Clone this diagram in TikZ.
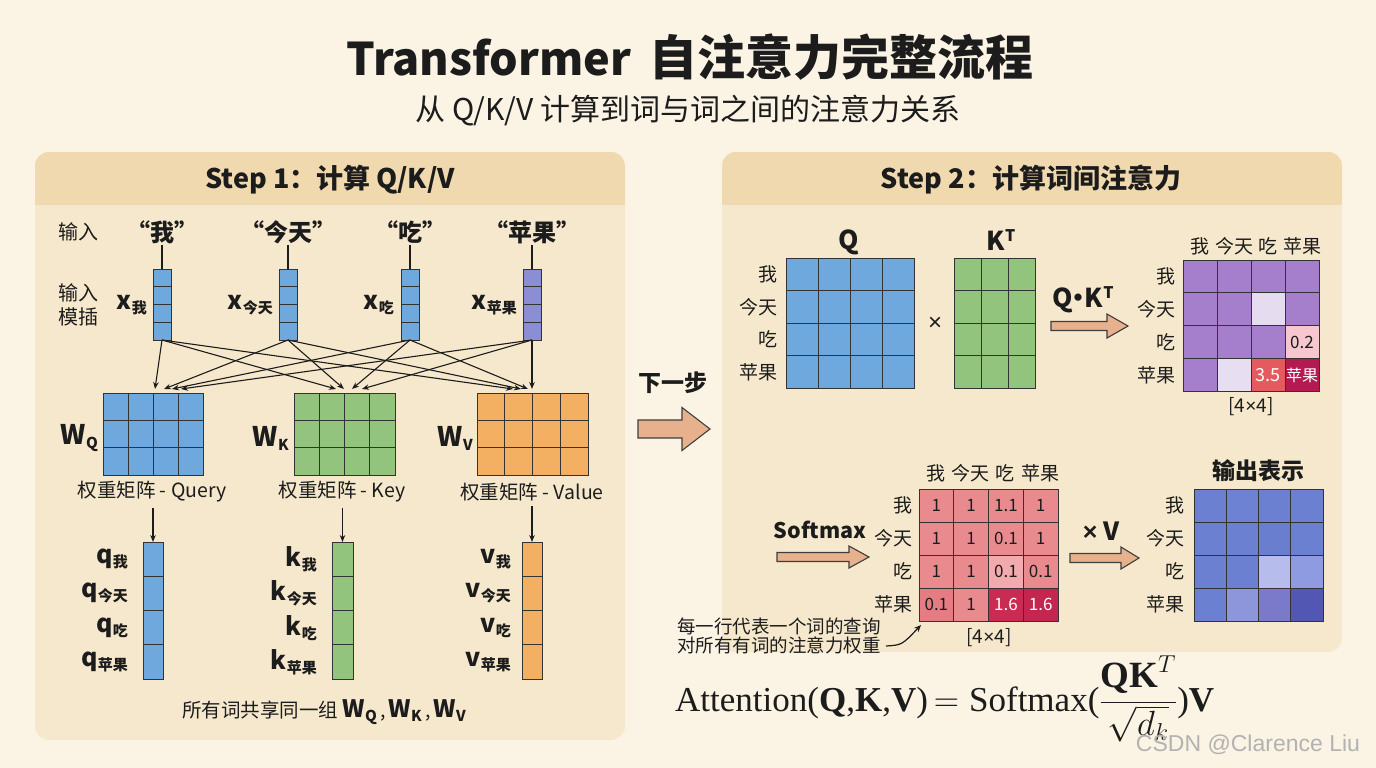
\RequirePackage{fix-cm}
\documentclass[tikz,border=0pt]{standalone}
\usepackage[no-math]{fontspec}
\setmainfont{Noto Sans CJK SC}
\newfontfamily\serifT{Liberation Serif}
\newfontfamily\wmfont{Liberation Sans}
\usetikzlibrary{arrows.meta,calc}

\definecolor{bgc}{HTML}{FBF4E5}
\definecolor{panelc}{HTML}{F6E8CC}
\definecolor{headc}{HTML}{F0D9AE}
\definecolor{blueC}{HTML}{6FA8DC}
\definecolor{greenC}{HTML}{93C47D}
\definecolor{orangeC}{HTML}{F4B062}
\definecolor{purpV}{HTML}{8C8ED4}
\definecolor{qkP}{HTML}{A57FCB}
\definecolor{smR}{HTML}{E98A8F}
\definecolor{outB}{HTML}{6B80D0}
\definecolor{arrF}{HTML}{E6B18C}
\definecolor{inkc}{HTML}{1C1C1C}

\newcommand\fs[1]{\fontsize{#1}{#1}\selectfont}
\newcommand\tms{{\wmfont ×}}
% matrix body as a named node
\newcommand\mkmat[6]{%
  \fill[#6] (#2,#3) rectangle (#4,#5);
  \node[inner sep=0pt,outer sep=0pt,minimum width={(#4-#2)*1pt},minimum height={(#5-#3)*1pt}] (#1) at ({(#2+#4)/2},{(#3+#5)/2}) {};
}
\newcommand\mkgrid[6]{%
  \foreach \i in {0,...,#5} \draw[gl] ({#1+(#3-#1)*\i/#5},#2) -- ({#1+(#3-#1)*\i/#5},#4);
  \foreach \j in {0,...,#6} \draw[gl] (#1,{#2+(#4-#2)*\j/#6}) -- (#3,{#2+(#4-#2)*\j/#6});
}
% x1 y1 cw ch row col hexcolour
\newcommand\cellc[7]{\definecolor{cellcol}{HTML}{#7}\fill[cellcol] ({#1+(#6-1)*#3},{#2+(#5-1)*#4}) rectangle ++(#3,#4);}
% block arrow: x1 x2 yc shafthalf headhalf headlen
\newcommand\barrow[6]{%
  \draw[fill=arrF,draw=inkc!85,line width=1.1pt,line join=miter]
    (#1,{#3-#4}) -- ({#2-#6},{#3-#4}) -- ({#2-#6},{#3-#5}) -- (#2,#3) -- ({#2-#6},{#3+#5}) -- ({#2-#6},{#3+#4}) -- (#1,{#3+#4}) -- cycle;}
\newcommand\subl[3]{{\bfseries\fs{#3}#1}\raisebox{-4pt}{\bfseries\fs{15}#2}}

\tikzset{
  gl/.style={draw=inkc!90,line width=1pt,line cap=rect},
  txt/.style={inner sep=1pt,text=inkc},
  lab/.style={txt,font=\fs{20}},
  rowl/.style={txt,font=\fs{19},anchor=east},
  coll/.style={txt,font=\fs{19}},
  wordst/.style={txt,font=\bfseries\fs{24}},
  stem/.style={draw=inkc,line width=1.1pt},
  xarrow/.style={draw=inkc,line width=1.1pt,-{Stealth[length=7pt,width=5.5pt]}},
  val/.style={inner sep=0pt,font=\fs{17}},
}

\begin{document}
\begin{tikzpicture}[x=1pt,y=-1pt]
\useasboundingbox (0,0) rectangle (1376,768);
\fill[bgc] (0,0) rectangle (1376,768);

% title
\node[txt,anchor=base] (title) at (690,76) {{\bfseries\fs{45}Transformer}\hspace{18pt}{\bfseries\fs{48}自注意力完整流程}};
\node[txt,anchor=base] (subt) at (688,120) {\fs{30}从 Q/K/V 计算到词与词之间的注意力关系};

% panels
\fill[panelc,rounded corners=14pt] (35,152) rectangle (625,740);
\begin{scope}
  \clip[rounded corners=14pt] (35,152) rectangle (625,740);
  \fill[headc] (35,152) rectangle (625,205);
\end{scope}
\fill[panelc,rounded corners=14pt] (722,152) rectangle (1342,652);
\begin{scope}
  \clip[rounded corners=14pt] (722,152) rectangle (1342,652);
  \fill[headc] (722,152) rectangle (1342,205);
\end{scope}
\node[txt,font=\bfseries\fs{27}] (h1) at (330,180) {Step 1：计算 Q/K/V};
\node[txt,font=\bfseries\fs{27}] (h2) at (1031,180) {Step 2：计算词间注意力};

% ---------------- Step 1 ----------------
\node[lab] (inlab) at (78,232) {输入};
\node[lab,align=center] (emb) at (78,305) {输入\\[4pt]模插};
\node[wordst] (w1) at (162,232) {“我”};
\node[wordst] (w2) at (288,232) {“今天”};
\node[wordst] (w3) at (410,232) {“吃”};
\node[wordst] (w4) at (532,232) {“苹果”};

\mkmat{xv1}{153}{269}{171}{340}{blueC}\mkgrid{153}{269}{171}{340}{1}{4}
\mkmat{xv2}{279}{269}{297}{340}{blueC}\mkgrid{279}{269}{297}{340}{1}{4}
\mkmat{xv3}{401}{269}{419}{340}{blueC}\mkgrid{401}{269}{419}{340}{1}{4}
\mkmat{xv4}{523}{269}{541}{340}{purpV}\mkgrid{523}{269}{541}{340}{1}{4}
\foreach \k in {1,...,4} \draw[stem] (w\k.south) -- (xv\k.north);

\node[txt,anchor=east] (xl1) at (148,305) {\subl{x}{我}{25}};
\node[txt,anchor=east] (xl2) at (274,305) {\subl{x}{今天}{25}};
\node[txt,anchor=east] (xl3) at (395,305) {\subl{x}{吃}{25}};
\node[txt,anchor=east] (xl4) at (518,305) {\subl{x}{苹果}{25}};

% weight matrices
\mkmat{WQ}{103}{393}{203}{475}{blueC}\mkgrid{103}{393}{203}{475}{4}{3}
\mkmat{WK}{294}{393}{395}{475}{greenC}\mkgrid{294}{393}{395}{475}{4}{3}
\mkmat{WV}{477}{393}{588}{475}{orangeC}\mkgrid{477}{393}{588}{475}{4}{3}

\coordinate (tq1) at (155,389); \coordinate (tq2) at (164,389);
\coordinate (tq3) at (172,389); \coordinate (tq4) at (181,389);
\coordinate (tk1) at (336,389); \coordinate (tk2) at (344,389);
\coordinate (tk3) at (352,389); \coordinate (tk4) at (362,389);
\coordinate (tv1) at (513,389); \coordinate (tv2) at (521,389);
\coordinate (tv3) at (528,389); \coordinate (tv4) at (532,389);
\foreach \k in {1,...,4} {
  \draw[xarrow] (xv\k.south) -- (tq\k);
  \draw[xarrow] (xv\k.south) -- (tk\k);
  \draw[xarrow] (xv\k.south) -- (tv\k);
}

\node[txt,anchor=east] (wql) at (99,438) {\subl{W}{Q}{27}};
\node[txt,anchor=east] (wkl) at (290,438) {\subl{W}{K}{27}};
\node[txt,anchor=east] (wvl) at (474,438) {\subl{W}{V}{27}};

\node[lab,font=\fs{19.5}] (lq) at (152,492) {权重矩阵 - Query};
\node[lab,font=\fs{19.5}] (lk) at (342,492) {权重矩阵 - Key};
\node[lab,font=\fs{19.5}] (lv) at (532,492) {权重矩阵 - Value};

% output vectors
\mkmat{qv}{143}{542}{163}{679}{blueC}\mkgrid{143}{542}{163}{679}{1}{4}
\mkmat{kv}{332}{542}{353}{679}{greenC}\mkgrid{332}{542}{353}{679}{1}{4}
\mkmat{vv}{522}{542}{542}{679}{orangeC}\mkgrid{522}{542}{542}{679}{1}{4}
\draw[xarrow] (lq.south -| qv.north) ++(0,4) -- (qv.north);
\draw[xarrow] (lk.south -| kv.north) ++(0,4) -- (kv.north);
\draw[xarrow] (lv.south -| vv.north) ++(0,4) -- (vv.north);

\foreach \n/\w/\yy in {1/我/559,2/今天/593,3/吃/628,4/苹果/662} {
  \node[txt,anchor=east] (ql\n) at (129,\yy) {\subl{q}{\w}{25}};
  \node[txt,anchor=east] (kl\n) at (318,\yy) {\subl{k}{\w}{25}};
  \node[txt,anchor=east] (vl\n) at (512,\yy) {\subl{v}{\w}{25}};
}
\node[txt,font=\fs{19.5}] (share) at (324,712) {所有词共享同一组 \subl{W}{Q}{24}\,,\,\subl{W}{K}{24}\,,\,\subl{W}{V}{24}};

% next step arrow
\node[txt,font=\bfseries\fs{23}] (next) at (673,383) {下一步};
\barrow{638}{710}{429}{9}{21.5}{28}

% ---------------- Step 2 ----------------
\node[txt,font=\bfseries\fs{26}] (Qlab) at (849,242) {Q};
\mkmat{Qm}{786}{258}{914}{388}{blueC}\mkgrid{786}{258}{914}{388}{4}{4}
\foreach \w/\yy [count=\n] in {我/274,今天/307,吃/339,苹果/372}
  \node[rowl] (qr\n) at (779,\yy) {\w};
\node[txt,font=\fs{24}] (times) at (935,324) {\tms};
\node[txt] (KTlab) at (1001,240) {{\bfseries\fs{26}K}\raisebox{9pt}{\bfseries\fs{16}T}};
\mkmat{KT}{954}{258}{1035}{388}{greenC}\mkgrid{954}{258}{1035}{388}{3}{4}

\node[txt] (qkl) at (1083,300) {{\bfseries\fs{26}Q\kern-7pt·\kern-7pt K}\raisebox{9pt}{\bfseries\fs{16}T}};
\barrow{1051}{1128}{326}{4.5}{12}{21}

\mkmat{QK}{1183}{260}{1319}{391}{qkP}
\cellc{1183}{260}{34}{32.75}{2}{3}{E6DCF0}
\cellc{1183}{260}{34}{32.75}{3}{4}{F7C6CF}
\cellc{1183}{260}{34}{32.75}{4}{2}{E7DEF1}
\cellc{1183}{260}{34}{32.75}{4}{3}{E55A5E}
\cellc{1183}{260}{34}{32.75}{4}{4}{B31A52}
\mkgrid{1183}{260}{1319}{391}{4}{4}
\node[val,text=inkc] (qk34) at (1302,342.6) {0.2};
\node[val,text=white,font=\fs{18}] (qk43) at (1268,375.4) {3.5};
\node[val,text=white,font=\fs{16}] (qk44) at (1302,375.4) {苹果};
\foreach \w/\xx [count=\n] in {我/1200,今天/1234,吃/1268,苹果/1302}
  \node[coll] (qc\n) at (\xx,246) {\w};
\foreach \w/\yy [count=\n] in {我/276,今天/309,吃/342,苹果/375}
  \node[rowl] (qkr\n) at (1177,\yy) {\w};
\node[txt,font=\fs{19}] (dim1) at (1251,407) {[4\tms4]};

% softmax
\node[txt,font=\bfseries\fs{21.5}] (smlab) at (820,530) {Softmax};
\barrow{777}{869}{557}{4.5}{11}{20}
\mkmat{SM}{919}{489}{1058}{621}{smR}
\cellc{919}{489}{34.75}{33}{3}{3}{F1ABAE}
\cellc{919}{489}{34.75}{33}{4}{1}{E57B83}
\cellc{919}{489}{34.75}{33}{4}{3}{C92B52}
\cellc{919}{489}{34.75}{33}{4}{4}{C52650}
\mkgrid{919}{489}{1058}{621}{4}{4}
\foreach \r/\c/\v/\t in {1/1/1/inkc,1/2/1/inkc,1/3/1.1/inkc,1/4/1/inkc,
  2/1/1/inkc,2/2/1/inkc,2/3/0.1/inkc,2/4/1/inkc,
  3/1/1/inkc,3/2/1/inkc,3/3/0.1/inkc,3/4/0.1/inkc,
  4/1/0.1/inkc,4/2/1/inkc,4/3/1.6/white,4/4/1.6/white}
  \node[val,text=\t] (s\r\c) at ({919+(\c-0.5)*34.75},{489+(\r-0.5)*33}) {\v};
\foreach \w/\xx [count=\n] in {我/936,今天/970,吃/1005,苹果/1040}
  \node[coll] (sc\n) at (\xx,473) {\w};
\foreach \w/\yy [count=\n] in {我/505.5,今天/538.5,吃/571.5,苹果/604.5}
  \node[rowl] (sr\n) at (914,\yy) {\w};
\node[txt,font=\fs{19}] (dim2) at (989,638) {[4\tms4]};

% x V
\node[txt,font=\bfseries\fs{25}] (xvlab) at (1101,531) {\tms\ V};
\barrow{1070}{1139}{558}{4.5}{11}{18}
\node[txt,font=\bfseries\fs{23}] (outlab) at (1258,471) {输出表示};
\mkmat{OUT}{1194}{489}{1323}{621}{outB}
\cellc{1194}{489}{32.25}{33}{1}{2}{6D82D2}
\cellc{1194}{489}{32.25}{33}{2}{3}{6A7ECF}
\cellc{1194}{489}{32.25}{33}{3}{3}{B6BCEC}
\cellc{1194}{489}{32.25}{33}{3}{4}{8F9BE0}
\cellc{1194}{489}{32.25}{33}{4}{2}{8E96DB}
\cellc{1194}{489}{32.25}{33}{4}{3}{7B7ACA}
\cellc{1194}{489}{32.25}{33}{4}{4}{5157B2}
\mkgrid{1194}{489}{1323}{621}{4}{4}
\foreach \w/\yy [count=\n] in {我/505.5,今天/538.5,吃/571.5,苹果/604.5}
  \node[rowl] (or\n) at (1186,\yy) {\w};

% footnote
\node[txt,font=\fs{18.5},align=left,anchor=west] (fn) at (676,636) {每一行代表一个词的查询\\[1pt]对所有有词的注意力权重};
\coordinate (fa) at (886,646);
\coordinate (fb) at (921,625);
\draw[draw=inkc,line width=1.2pt,-{Stealth[length=7pt,width=6pt]}] (fa) .. controls (902,645) .. (fb);

% formula
\node[txt,anchor=base west,inner sep=0pt] (formula) at (675,711)
  {\serifT\fs{35}Attention(\textbf{Q},\textbf{K},\textbf{V})\hspace{6pt}$=$\hspace{10pt}Softmax($\displaystyle\frac{\mbox{\serifT\bfseries\fs{37}QK}^{T}}{\sqrt{d_k}}$)\textbf{V}};

% watermark
\node[inner sep=0pt,font=\wmfont\fs{23},text=black!30] (wm) at (1248,745) {CSDN @Clarence Liu};
\end{tikzpicture}
\end{document}
